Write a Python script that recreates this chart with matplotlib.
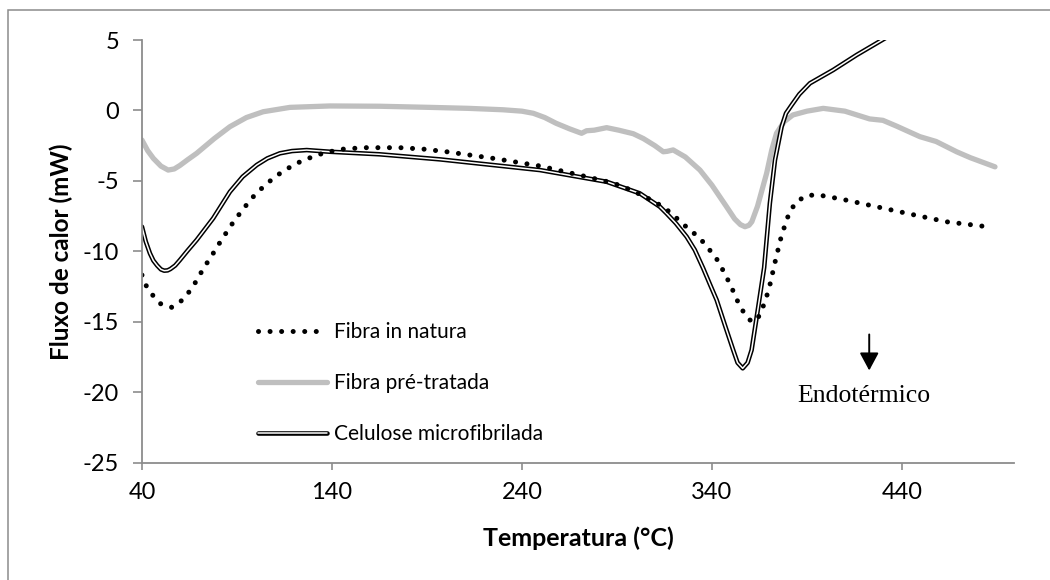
import matplotlib.pyplot as plt
from matplotlib.patches import Rectangle
from matplotlib.legend_handler import HandlerTuple

plt.rcParams['axes.unicode_minus'] = False
plt.rcParams['font.family'] = ['Lato', 'DejaVu Sans']

# DSC curves, temperature (°C) vs heat flow (mW)
t_natura = [40, 42, 45.6, 50, 55.6, 60.8, 64.9, 68.4, 71.7, 74.9, 78.4, 81.6, 85.1, 88.6,
            92.5, 96.3, 100.4, 110, 120.5, 132, 144.2, 156.5, 175.8, 188, 200.4, 225, 249.5,
            274, 286.3, 292.5, 303.8, 309, 314.7, 319.6, 326, 333.7, 342, 345, 348, 350.7,
            353.2, 356.2, 360, 362.5, 364.9, 367.4, 369.3, 370.9, 372.3, 373.7, 376.7,
            380.7, 384.2, 389.5, 395.4, 408.2, 426.6, 445, 463.5, 488]
f_natura = [-11.68, -12.39, -13.1, -13.74, -13.97, -13.5, -12.86, -12.15, -11.37, -10.68,
            -9.95, -9.24, -8.53, -7.82, -7.14, -6.48, -5.84, -4.7, -3.8, -3.16, -2.76, -2.64,
            -2.64, -2.74, -2.93, -3.4, -3.94, -4.7, -5.1, -5.36, -6.05, -6.43, -6.87, -7.42,
            -8.2, -9.07, -10.42, -11.13, -11.91, -12.67, -13.45, -14.21, -14.87, -15.0,
            -14.57, -13.76, -12.98, -12.18, -11.32, -10.49, -8.84, -7.26, -6.52, -6.05,
            -5.98, -6.29, -6.83, -7.37, -7.9, -8.3]

t_pre = [40, 43, 46, 50, 53.8, 57, 60, 64, 68.8, 78, 86.3, 95, 103.8, 117.9, 138.9, 165,
         191.6, 212, 230, 240, 246, 252, 258, 265, 271.4, 274, 278, 284.6, 291, 298.6, 304,
         310, 314.4, 316.5, 319.6, 326, 333.7, 340, 347.7, 352, 355, 357.4, 359.5, 361, 364,
         368.8, 371.5, 374, 378, 382.6, 390, 398.6, 410, 423, 430, 437, 449.5, 458, 468.8,
         476, 489]
f_pre = [-2.1, -2.85, -3.4, -3.95, -4.23, -4.15, -3.9, -3.5, -3.04, -2.0, -1.15, -0.5,
         -0.09, 0.22, 0.32, 0.3, 0.22, 0.15, 0.05, -0.05, -0.2, -0.5, -0.91, -1.3, -1.62,
         -1.44, -1.4, -1.22, -1.4, -1.65, -2.0, -2.5, -2.93, -2.9, -2.8, -3.3, -4.23, -5.3,
         -6.83, -7.7, -8.1, -8.25, -8.15, -7.9, -6.8, -4.46, -2.8, -1.62, -0.8, -0.32,
         -0.05, 0.15, -0.05, -0.6, -0.7, -1.1, -1.86, -2.2, -2.93, -3.35, -4.0]

t_cmf = [40, 42, 44.2, 46, 48, 50, 51.7, 53.5, 55, 57.5, 60, 64, 68.8, 77.5, 86.3, 93,
         100.4, 106, 112.6, 119, 126.7, 139, 165, 196.8, 249.5, 284.6, 302, 312.6, 316.1,
         321, 326.7, 331, 335.4, 339, 342.5, 347, 351.2, 353.5, 356.2, 358.8, 360.9, 364.4,
         367.5, 370.5, 373.2, 376.7, 379, 382, 386, 391.6, 403.8, 416.2, 430.2, 436]
f_cmf = [-8.25, -9.3, -10.14, -10.65, -11.0, -11.28, -11.37, -11.35, -11.25, -11.0,
         -10.61, -9.95, -9.19, -7.65, -5.77, -4.7, -3.87, -3.4, -3.04, -2.88, -2.81, -2.93,
         -3.11, -3.47, -4.23, -5.06, -5.88, -6.83, -7.3, -8.0, -8.96, -9.9, -11.2, -12.35,
         -13.45, -15.3, -17.0, -17.9, -18.3, -17.9, -17.0, -13.93, -11.15, -6.59, -3.52,
         -1.15, -0.2, 0.39, 1.15, 1.93, 2.87, 3.94, 5.05, 5.5]

x_ticks = [40, 140, 240, 340, 440]
y_ticks = [5, 0, -5, -10, -15, -20, -25]

fig = plt.figure(figsize=(10.5, 5.8), dpi=100)
ax = fig.add_axes([0.1352, 0.2022, 0.8305, 0.7288])

# outer chart border
fig.patches.append(Rectangle((8 / 1050, -0.05), 1.1, 1 - 10 / 580 + 0.05,
                             transform=fig.transFigure, fill=False,
                             edgecolor='#8c8c8c', lw=1.1))

grey, = ax.plot(t_pre, f_pre, color='#bfbfbf', lw=3.8, solid_capstyle='round',
                solid_joinstyle='round')
outer, = ax.plot(t_cmf, f_cmf, color='black', lw=3.3, solid_capstyle='round',
                 solid_joinstyle='round')
inner, = ax.plot(t_cmf, f_cmf, color='white', lw=1.1, solid_capstyle='round',
                 solid_joinstyle='round')
dots, = ax.plot(t_natura, f_natura, color='black', lw=3.6,
                linestyle=(0, (0.01, 2.3)), dash_capstyle='round')

ax.set_xlim(40, 499)
ax.set_ylim(-25, 5)
ax.set_xticks(x_ticks)
ax.set_yticks(y_ticks)
ax.tick_params(labelsize=17, color='#8c8c8c', width=1.2)
ax.tick_params(axis='y', length=6.5, pad=10)
ax.tick_params(axis='x', length=5, pad=9)
for side in ['top', 'right']:
    ax.spines[side].set_visible(False)
for side in ['left', 'bottom']:
    ax.spines[side].set_color('#8c8c8c')
    ax.spines[side].set_linewidth(1.3)

ax.set_xlabel('Temperatura (°C)', fontsize=18, fontweight='bold', va='center')
ax.xaxis.set_label_coords(0.5, -0.1774)
ax.set_ylabel('Fluxo de calor (mW)', fontsize=17.5, fontweight='bold', va='center')
ax.yaxis.set_label_coords(-0.093, 0.5)

ax.legend([dots, grey, (outer, inner)],
          ['Fibra in natura', 'Fibra pré-tratada', 'Celulose microfibrilada'],
          handler_map={tuple: HandlerTuple(ndivide=1, pad=0)},
          loc='upper left', bbox_to_anchor=(258 / 1050, 1 - 322 / 580),
          bbox_transform=fig.transFigure, frameon=False, fontsize=15,
          borderpad=0, borderaxespad=0, handlelength=3.3, handletextpad=0.35,
          labelspacing=1.5)

ax.annotate('', xy=(422.8, -18.65), xytext=(422.8, -15.7),
            arrowprops=dict(arrowstyle='-|>,head_width=0.29,head_length=0.54',
                            mutation_scale=20, color='black', lw=1.4))
ax.text(420, -20.24, 'Endotérmico', family='Liberation Serif', fontsize=18.5,
        ha='center', va='center')

fig.savefig('out.png', dpi=100)
